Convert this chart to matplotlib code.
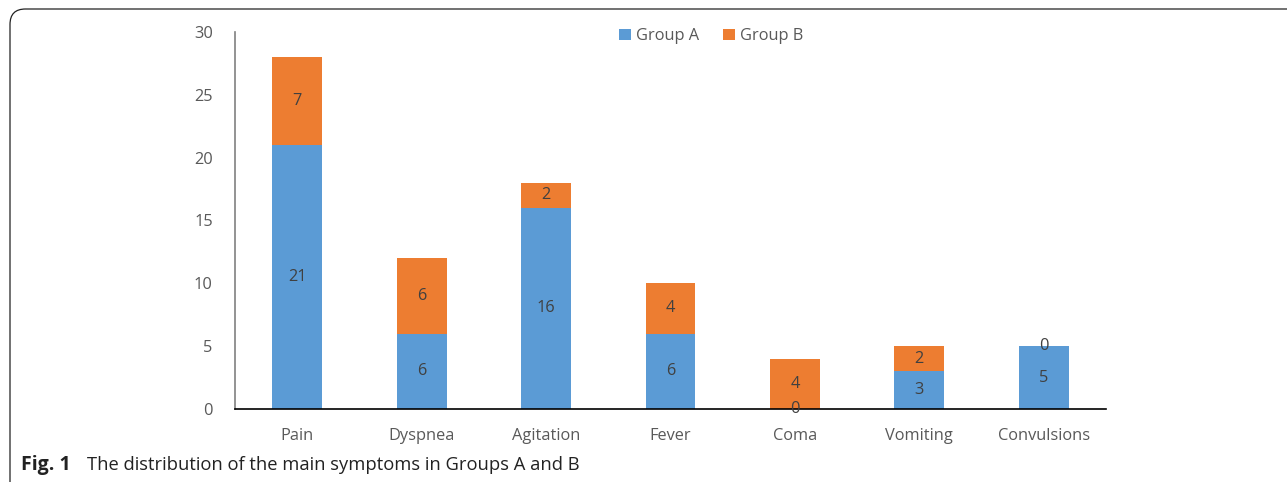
import matplotlib
matplotlib.use("Agg")
import matplotlib.pyplot as plt
from matplotlib.patches import FancyBboxPatch

categories = ["Pain", "Dyspnea", "Agitation", "Fever", "Coma", "Vomiting", "Convulsions"]
group_a = [21, 6, 16, 6, 0, 3, 5]
group_b = [7, 6, 2, 4, 4, 2, 0]
yticks = [0, 5, 10, 15, 20, 25, 30]

W, H = 1287, 482
fig = plt.figure(figsize=(W / 100, H / 100), dpi=100)
plt.rcParams['font.family'] = ['Open Sans', 'DejaVu Sans']

# axes placement in pixels
left, right, top, bottom = 235, 1106, 32, 409
ax = fig.add_axes([left / W, 1 - bottom / H, (right - left) / W, (bottom - top) / H])

blue = "#5B9BD5"
orange = "#ED7D31"
x = list(range(len(categories)))
ax.bar(x, group_a, width=0.4, color=blue, label="Group A", zorder=2)
ax.bar(x, group_b, width=0.4, bottom=group_a, color=orange, label="Group B", zorder=2)

lab_color = "#404040"
for i in x:
    a, b = group_a[i], group_b[i]
    ax.text(i, a / 2, str(a), ha="center", va="center", fontsize=11.8, color=lab_color, zorder=3)
    ax.text(i, a + b / 2, str(b), ha="center", va="center", fontsize=11.8, color=lab_color, zorder=3)

ax.set_xlim(-0.5, len(categories) - 0.5)
ax.set_ylim(0, 30)
ax.set_yticks(yticks)
ax.set_xticks(x)
ax.set_xticklabels(categories)
ax.tick_params(axis="both", length=0, labelsize=11.8, labelcolor="#595959")
ax.tick_params(axis="y", pad=16)
ax.tick_params(axis="x", pad=14)
for s in ["top", "right"]:
    ax.spines[s].set_visible(False)
ax.spines["left"].set_color("#808080")
ax.spines["left"].set_linewidth(1.2)
ax.spines["bottom"].set_color("black")
ax.spines["bottom"].set_linewidth(1.2)
for t in ax.texts:
    t.set_clip_on(False)

leg = fig.legend(loc="center", bbox_to_anchor=(711 / W, 1 - 36 / H), ncol=2, frameon=False,
                 fontsize=11.8, handlelength=0.7, handleheight=0.7, handletextpad=0.3,
                 columnspacing=1.5, labelcolor="#595959")

# rounded frame extending beyond the figure edges
frame = FancyBboxPatch((10 / W, -0.2), 1.2, (1 - 9 / H) + 0.2,
                       boxstyle="round,pad=0,rounding_size=0.012",
                       transform=fig.transFigure, fill=False, edgecolor="#222222",
                       linewidth=0.9, mutation_aspect=W / H)
fig.patches.append(frame)

cap_family = ["Open Sans", "DejaVu Sans"]
fig.text(21 / W, 1 - 465 / H, "Fig. 1", fontsize=14, fontweight="bold",
         family=cap_family, va="center", ha="left", color="#222222")
fig.text(87 / W, 1 - 465 / H, "The distribution of the main symptoms in Groups A and B", fontsize=13.2,
         family=cap_family, va="center", ha="left", color="#222222")

fig.savefig("out.png", dpi=100)
